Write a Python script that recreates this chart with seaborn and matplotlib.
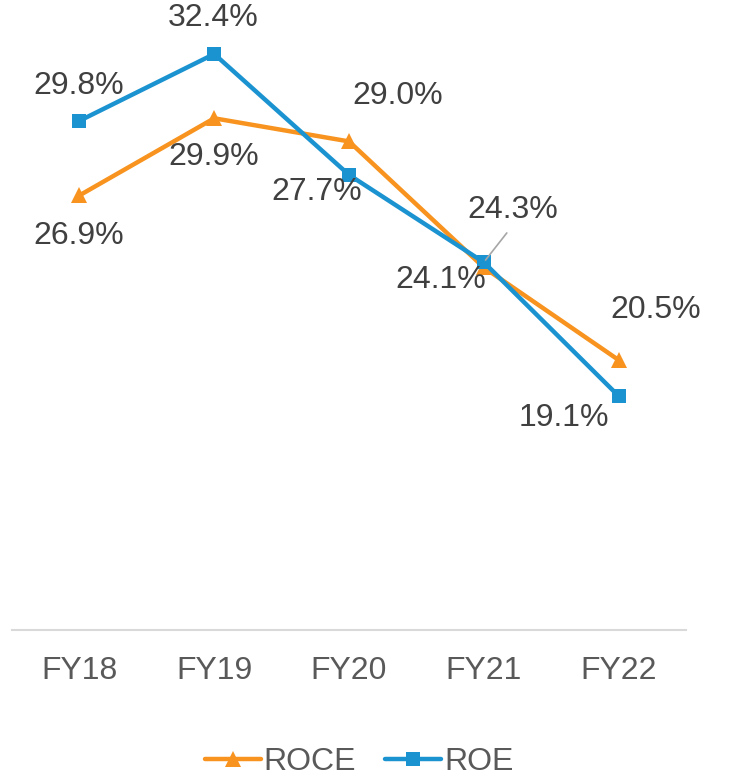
import matplotlib
matplotlib.use("Agg")
import matplotlib.pyplot as plt
import seaborn as sns
import pandas as pd

years = ["FY18", "FY19", "FY20", "FY21", "FY22"]
roce = [26.9, 29.9, 29.0, 24.1, 20.5]
roe = [29.8, 32.4, 27.7, 24.3, 19.1]

ORANGE = "#F7931E"
BLUE = "#1C93D1"

sns.set_style("white")
plt.rcParams["font.family"] = ["Liberation Sans", "DejaVu Sans"]

df = pd.DataFrame({"year": years, "ROCE": roce, "ROE": roe})
df["x"] = range(len(years))

fig = plt.figure(figsize=(7.33, 7.77), dpi=100)
ax = fig.add_axes([12 / 733, 147 / 777, 674 / 733, 630 / 777])

sns.lineplot(data=df, x="x", y="ROCE", ax=ax, color=ORANGE, lw=3.2,
             marker="^", markersize=12, markeredgewidth=0, label="ROCE")
sns.lineplot(data=df, x="x", y="ROE", ax=ax, color=BLUE, lw=3.2,
             marker="s", markersize=10, markeredgewidth=0, label="ROE")

ax.set_xlim(-0.5, 4.5)
ax.set_ylim(10, 34.5)
ax.set_xticks(df["x"])
ax.set_xticklabels(years, fontsize=23, color="#595959")
ax.set_yticks([])
ax.set_xlabel("")
ax.set_ylabel("")
ax.tick_params(axis="x", length=0, pad=19)
for s in ["top", "right", "left"]:
    ax.spines[s].set_visible(False)
ax.spines["bottom"].set_color("#d9d9d9")
ax.spines["bottom"].set_linewidth(1.5)

# data labels (pixel offsets from the marker)
roce_off = [(-1, -41), (-1, -39), (49, 45), (-43, -13), (37, 50)]
roe_off = [(-1, 35), (-1, 36), (-32, -17), (29, 52), (-55, -22)]
lbl = dict(textcoords="offset pixels", ha="center", va="center",
           fontsize=23, color="#404040")
for i, v in enumerate(roce):
    ax.annotate(f"{v:.1f}%", (i, v), xytext=roce_off[i], **lbl)
for i, v in enumerate(roe):
    if i == 3:
        ax.annotate(f"{v:.1f}%", (i, v), xytext=roe_off[i],
                    arrowprops=dict(arrowstyle="-", color="#a6a6a6", lw=1.2,
                                    relpos=(0.5, 0), shrinkA=4, shrinkB=2),
                    **lbl)
    else:
        ax.annotate(f"{v:.1f}%", (i, v), xytext=roe_off[i], **lbl)

ax.get_legend().remove()
h, l = ax.get_legend_handles_labels()
fig.legend(h, l, loc="center", bbox_to_anchor=(0.49, 1 - 762 / 777), ncol=2,
           frameon=False, fontsize=23, handlelength=1.75, handletextpad=0.1,
           columnspacing=0.9, labelcolor="#595959")

fig.savefig("out.png", dpi=100)
